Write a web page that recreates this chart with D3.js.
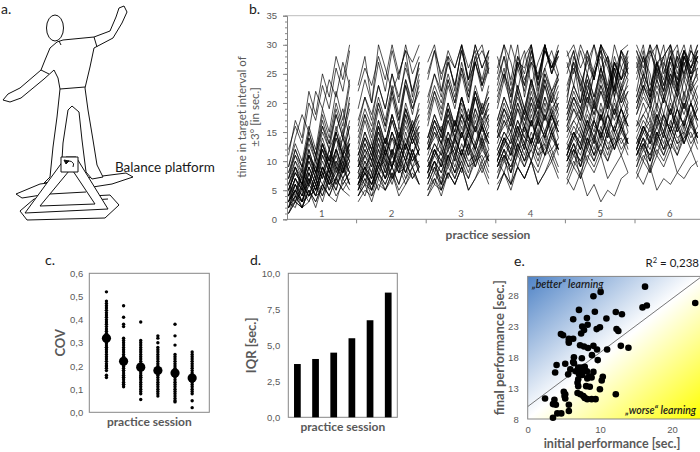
<!DOCTYPE html>
<html>
<head>
<meta charset="utf-8">
<script src="https://d3js.org/d3.v7.min.js"></script>
<style>
body { margin: 0; background: #fff; }
svg { display: block; font-family: Lato, "Open Sans", sans-serif; }
</style>
</head>
<body>
<div id="canvas"></div>
<script>
// ---- data ----
const sessions = ["1", "2", "3", "4", "5", "6"];

// b. time in target interval, one row per participant, 10 trials per session
const session1 = [
  [3,6,4,8,5,9,6,7,11,8],[2,4,3,7,4,5,9,6,8,10],[5,3,8,6,10,7,12,9,8,13],[1,3,2,5,2,6,4,3,7,5],
  [6,9,7,12,8,13,10,15,11,14],[2,5,3,4,7,4,8,5,9,6],[7,11,8,14,10,16,12,15,19,14],[3,2,6,4,5,9,6,10,7,9],
  [9,14,18,15,22,19,24,21,27,23],[4,7,5,9,6,11,8,12,9,13],[3,5,2,6,4,8,5,7,10,6],[8,12,9,15,11,17,13,19,15,20],
  [2,4,2,5,3,6,4,7,5,4],[5,8,6,10,7,12,9,14,10,13],[11,17,14,22,18,25,21,28,24,30],[4,6,3,8,5,9,7,11,8,12],
  [6,10,7,11,9,14,10,16,12,17],[1,4,2,3,6,3,7,4,6,8],[5,8,6,11,7,13,9,12,15,11],[9,13,10,16,12,19,15,22,17,24],
  [2,5,3,7,4,8,6,9,7,10],[4,7,5,6,9,7,11,8,12,10],[3,7,4,9,6,10,7,12,8,11],[7,10,8,13,10,15,12,18,14,19],
  [4,3,6,4,7,5,9,6,10,8],[2,6,3,7,5,9,6,8,11,9],[6,9,5,11,8,12,9,14,11,13],[12,16,13,20,17,23,19,26,22,29],
  [3,5,7,4,8,6,9,7,11,8],[5,9,6,12,8,13,10,15,11,16],[2,3,5,3,6,4,7,5,9,6],[4,7,5,9,6,11,8,12,9,14],
  [8,11,9,14,11,16,13,18,14,21],[3,6,4,8,5,9,7,10,8,11],[5,8,6,10,7,12,8,11,14,10],[1,3,2,5,3,6,4,7,5,7],
  [6,4,9,6,11,8,12,9,14,11],[4,9,6,11,8,13,9,15,11,16],[7,12,9,15,11,18,14,20,16,23],[3,5,3,6,4,8,5,9,6,8]
];
const session2 = [
  [6,10,7,12,8,11,9,13,10,12],[5,8,6,9,11,7,10,8,12,9],[8,12,9,14,10,15,11,13,16,12],[4,6,3,7,5,8,4,6,9,6],
  [10,14,11,16,12,17,13,19,15,18],[6,9,5,10,7,11,8,9,12,8],[12,17,13,19,15,21,16,23,18,24],[5,8,6,10,7,9,12,8,11,9],
  [19,24,20,27,22,29,24,30,25,28],[7,11,8,13,9,12,10,14,11,15],[6,4,8,5,9,6,10,7,11,8],[13,18,14,20,16,22,17,24,19,23],
  [4,6,5,8,5,7,9,6,8,6],[9,13,10,15,11,14,12,17,13,16],[23,28,20,30,26,22,25,29,21,27],[8,6,10,7,12,9,13,10,14,11],
  [11,15,12,17,13,18,14,20,16,19],[4,7,5,8,6,9,6,10,7,9],[9,13,10,16,11,15,12,18,14,17],[16,21,17,23,19,25,20,27,22,26],
  [6,9,7,11,8,12,9,13,10,12],[8,11,9,13,10,9,14,11,15,12],[7,10,8,12,9,14,10,15,11,14],[14,18,15,20,16,22,17,23,19,22],
  [6,8,5,9,7,10,8,11,9,10],[5,9,6,10,7,12,8,13,9,12],[10,14,11,15,12,17,13,18,14,16],[22,26,23,28,24,30,25,29,27,30],
  [7,9,11,8,12,9,13,10,14,11],[11,15,12,17,13,18,14,19,16,18],[5,7,4,8,6,9,6,10,7,9],[9,12,10,14,11,15,12,16,13,15],
  [15,19,16,21,17,23,18,24,20,25],[6,9,7,10,12,9,13,10,14,11],[9,11,13,10,14,11,16,12,17,14],[3,5,4,6,5,8,5,7,9,6],
  [10,8,12,9,14,11,15,12,16,13],[11,14,12,16,13,18,14,19,15,20],[17,21,18,23,19,25,21,26,22,27],[6,8,6,9,10,7,11,8,12,9]
];
const session3 = [
  [8,12,9,14,10,15,11,13,16,12],[7,10,8,12,9,13,10,11,14,10],[11,15,12,17,13,18,14,19,15,18],[5,7,4,8,6,9,5,7,10,7],
  [13,17,14,19,15,21,16,22,18,21],[7,10,6,11,8,12,9,10,13,9],[16,21,17,23,19,25,20,27,22,26],[6,9,7,11,8,10,13,9,12,10],
  [24,29,25,28,22,30,26,29,23,27],[10,13,11,15,12,17,13,18,14,17],[8,6,10,7,11,8,12,9,13,10],[17,22,18,24,20,26,21,27,23,28],
  [4,7,5,8,6,9,5,7,9,6],[12,16,13,18,14,19,15,21,16,20],[27,30,24,29,26,30,23,28,30,25],[10,8,12,9,14,11,15,12,16,13],
  [14,18,15,20,16,21,17,23,19,22],[5,8,6,9,7,10,7,11,8,11],[12,16,13,19,14,18,15,21,17,20],[20,25,21,27,23,29,24,30,26,29],
  [9,12,10,14,11,15,12,16,13,15],[10,13,11,15,12,11,16,13,17,14],[9,12,10,14,11,16,12,17,13,16],[18,22,19,24,20,26,21,27,23,26],
  [7,10,6,11,8,12,9,13,10,12],[8,12,9,13,10,15,11,16,12,15],[13,17,14,18,15,20,16,21,17,19],[25,29,22,28,26,30,24,27,29,26],
  [9,11,13,10,14,11,15,12,16,13],[14,18,15,20,16,21,17,22,19,21],[6,9,5,10,7,11,8,12,9,11],[12,15,13,17,14,18,15,19,16,18],
  [19,23,20,25,21,27,22,28,24,29],[8,11,9,12,14,11,15,12,16,13],[12,14,16,13,17,14,19,15,20,17],[4,6,5,8,6,9,7,10,11,8],
  [13,11,15,12,17,14,18,15,19,16],[14,17,15,19,16,21,17,22,18,23],[21,25,22,27,23,29,24,30,26,29],[8,10,8,11,12,9,13,10,14,11]
];
const session4 = [
  [10,14,11,16,12,17,13,15,18,14],[9,12,10,14,11,15,12,13,16,12],[13,17,14,19,15,20,16,21,17,20],[6,8,5,9,7,10,6,8,11,8],
  [16,20,17,22,18,24,19,25,21,24],[9,12,8,13,10,14,11,12,15,11],[19,24,20,26,22,28,23,30,25,29],[8,11,9,13,10,12,15,11,14,12],
  [26,30,23,28,25,30,22,29,27,24],[12,15,13,17,14,19,15,20,16,19],[10,8,12,9,13,10,14,11,15,12],[20,25,21,27,23,29,24,30,26,29],
  [5,8,6,9,7,10,6,8,10,7],[14,18,15,20,16,21,17,23,18,22],[28,24,30,26,29,23,27,30,25,29],[12,10,14,11,16,13,17,14,18,15],
  [17,21,18,23,19,24,20,26,22,25],[7,10,8,11,9,12,9,13,10,13],[15,19,16,22,17,21,18,24,20,23],[23,28,24,30,21,27,25,29,26,28],
  [11,14,12,16,13,17,14,18,15,17],[12,15,13,17,14,13,18,15,19,16],[11,14,12,16,13,18,14,19,15,18],[21,25,22,27,23,29,24,30,26,29],
  [9,12,8,13,10,14,11,15,12,14],[10,14,11,15,12,17,13,18,14,17],[15,19,16,20,17,22,18,23,19,21],[25,30,27,22,28,30,24,29,26,30],
  [10,13,15,12,16,13,17,14,18,15],[17,21,18,23,19,24,20,25,22,24],[7,11,6,12,9,13,10,14,11,13],[14,17,15,19,16,20,17,21,18,20],
  [22,26,19,28,24,27,21,30,25,28],[10,13,11,14,16,13,17,14,18,15],[14,16,18,15,19,16,21,17,22,19],[5,8,6,9,7,10,8,11,12,9],
  [15,13,17,14,19,16,20,17,21,18],[16,19,17,21,18,23,19,24,20,25],[24,28,21,27,26,30,23,26,29,25],[9,11,9,12,13,10,14,11,15,12]
];
const session5 = [
  [11,15,12,17,13,18,14,16,19,15],[10,13,11,15,12,16,13,14,17,13],[15,19,16,21,17,22,18,23,19,22],[7,5,8,4,6,3,5,4,7,8],
  [18,22,19,24,20,26,21,27,23,26],[10,13,9,14,11,15,12,13,16,12],[22,27,20,29,25,28,23,30,26,24],[9,12,10,14,11,13,16,12,15,13],
  [27,23,29,25,30,26,28,22,29,30],[13,16,14,18,15,20,16,21,17,20],[11,9,13,10,14,11,15,12,16,13],[21,26,23,19,25,29,22,27,24,28],
  [6,9,7,10,8,11,7,9,11,8],[16,20,17,22,18,23,19,25,20,24],[29,25,30,27,24,30,28,25,29,27],[13,11,15,12,17,14,18,15,19,16],
  [19,23,20,25,21,26,22,28,24,27],[8,11,9,12,10,13,10,14,11,14],[17,21,18,24,19,23,20,26,22,25],[25,29,23,27,30,24,28,21,26,29],
  [12,15,13,17,14,18,15,19,16,18],[14,17,15,19,16,15,20,17,21,18],[12,15,13,17,14,19,15,20,16,19],[23,27,24,20,25,29,26,22,28,25],
  [10,13,9,14,11,15,12,16,13,15],[11,15,12,16,13,18,14,19,15,18],[17,21,18,22,19,24,20,25,21,23],[28,30,26,29,24,30,27,23,29,26],
  [11,14,16,13,17,14,18,15,19,16],[19,23,20,25,21,26,22,27,24,26],[8,12,7,13,10,14,11,15,12,14],[16,19,17,21,18,22,19,23,20,22],
  [20,28,25,22,26,30,19,27,24,29],[11,14,12,15,17,14,18,15,19,16],[15,17,19,16,20,17,22,18,23,20],[7,10,8,11,9,12,10,13,14,11],
  [16,14,18,15,20,17,21,18,22,19],[18,21,19,23,20,25,21,26,22,27],[26,29,22,28,24,30,27,21,29,25],[10,12,10,13,14,11,15,12,16,13]
];
const session6 = [
  [12,16,13,18,14,19,15,17,20,16],[11,14,12,16,13,17,14,15,18,14],[16,20,17,22,18,23,19,24,20,23],[8,6,9,5,7,6,8,7,9,10],
  [20,24,21,26,22,28,23,29,25,28],[11,14,10,15,12,16,13,14,17,13],[24,28,21,30,26,23,28,25,29,27],[10,13,11,15,12,14,17,13,16,14],
  [29,26,30,24,28,30,25,29,27,30],[14,17,15,19,16,21,17,22,18,21],[12,10,14,11,15,12,16,13,17,14],[22,28,25,19,27,24,28,21,26,29],
  [7,10,8,11,9,12,8,10,12,9],[18,22,19,24,20,25,21,27,22,26],[30,27,29,25,28,30,26,29,24,28],[14,12,16,13,18,15,19,16,20,17],
  [21,25,22,27,23,28,24,29,26,29],[9,12,10,13,11,14,11,15,12,15],[19,23,20,26,21,25,22,28,24,27],[27,22,28,30,25,29,23,28,26,30],
  [13,16,14,18,15,19,16,20,17,19],[15,18,16,20,17,16,21,18,22,19],[13,16,14,18,15,20,16,21,17,20],[25,29,20,27,24,30,22,28,25,26],
  [11,14,10,15,12,16,13,17,14,16],[12,16,13,17,14,19,15,20,16,19],[19,23,20,24,21,26,22,27,23,25],[29,25,30,27,22,28,30,24,29,27],
  [12,15,17,14,18,15,19,16,20,17],[21,25,22,27,23,28,24,29,26,28],[9,13,8,14,11,15,12,16,13,15],[18,21,19,23,20,24,21,25,22,24],
  [26,30,23,27,28,21,29,25,30,24],[12,15,13,16,18,15,19,16,20,17],[16,18,20,17,21,18,23,19,24,21],[8,11,9,12,10,13,11,14,15,12],
  [17,15,19,16,21,18,22,19,23,20],[20,23,21,25,22,27,23,28,24,29],[28,24,29,26,30,23,27,30,25,28],[11,13,11,14,15,12,16,13,17,14]
];

// c. coefficient of variation per participant and session
const cov1 = [0.52,0.48,0.47,0.46,0.45,0.44,0.43,0.42,0.41,0.40,0.39,0.38,0.37,0.36,0.35,0.34,0.33,0.33,0.32,0.31,0.30,0.30,0.29,0.28,0.28,0.27,0.26,0.25,0.24,0.23,0.22,0.21,0.20,0.20,0.19,0.18,0.16,0.15];
const cov2 = [0.46,0.41,0.38,0.37,0.32,0.31,0.30,0.29,0.28,0.27,0.26,0.25,0.24,0.24,0.23,0.22,0.22,0.21,0.20,0.20,0.19,0.18,0.18,0.17,0.16,0.15,0.15,0.14,0.13,0.12,0.12,0.11];
const cov3 = [0.39,0.31,0.30,0.29,0.28,0.27,0.26,0.25,0.24,0.23,0.22,0.21,0.20,0.20,0.19,0.18,0.18,0.17,0.16,0.15,0.15,0.14,0.13,0.12,0.11,0.10,0.09,0.08,0.055];
const cov4 = [0.33,0.32,0.30,0.28,0.27,0.26,0.25,0.24,0.23,0.22,0.21,0.20,0.19,0.18,0.18,0.17,0.16,0.15,0.14,0.13,0.12,0.11,0.10,0.09,0.08,0.07];
const cov5 = [0.38,0.33,0.29,0.25,0.24,0.23,0.22,0.21,0.20,0.19,0.18,0.17,0.16,0.16,0.15,0.14,0.13,0.12,0.11,0.10,0.09,0.08,0.07,0.06,0.05,0.045];
const cov6 = [0.26,0.25,0.24,0.23,0.22,0.21,0.20,0.19,0.18,0.17,0.16,0.15,0.14,0.13,0.12,0.11,0.10,0.09,0.08,0.05,0.02];
const covMean = [0.32, 0.22, 0.195, 0.18, 0.17, 0.148];

// d. interquartile range per session
const iqr = [3.70, 4.05, 4.49, 5.49, 6.74, 8.66];

// e. initial vs final performance
const initialPerf = [2.4,3.7,3.5,3.9,3.5,4.1,4.65,5.7,5.7,5.0,5.2,5.1,5.2,3.8,4.0,5.2,5.6,5.9,6.4,6.4,6.3,6.65,7.0,7.0,7.4,7.1,7.55,7.0,6.9,7.0,6.9,7.3,7.7,7.9,8.25,8.85,9.4,8.1,8.6,8.25,8.5,8.85,9.1,8.2,7.9,7.7,10.0,10.25,10.4,9.7,8.9,7.5,9.6,9.1,8.35,7.8,7.25,5.7,5.7,5.7,6.3,4.6,4.9,7.4,7.8,7.55,8.3,9.55,10.0,6.3,8.2,7.1,9.3,9.1,10.1,10.9,12.3,12.55,12.2,13.05,11.0,12.9,13.95,12.2,15.9,16.5,16.25,23.2];
const finalPerf = [11.3,11.1,10.4,10.3,8.2,8.9,8.9,10.3,9.3,12.4,12.0,11.7,11.3,15.5,16.7,16.9,15.2,16.0,17.0,17.95,17.2,15.7,16.3,16.0,16.3,15.25,15.1,14.4,13.85,13.3,12.2,12.0,11.7,11.4,11.2,11.2,11.2,13.3,13.2,14.55,14.9,14.7,15.6,15.7,16.4,16.0,12.8,14.2,14.8,17.5,18.3,17.8,19.2,19.8,19.45,19.7,19.9,20.95,20.6,20.3,20.95,21.7,21.5,21.8,22.35,22.9,23.2,22.5,22.8,24.1,24.3,25.6,25.3,27.8,28.5,24.2,22.5,22.2,25.25,24.9,19.2,19.8,19.5,12.0,26.0,26.3,29.35,26.7];
const fitLine = [[0, 10], [24, 30.9]];

// ---- setup ----
const W = 700, H = 452;
const axisGrey = "#868686", textGrey = "#595959", ink = "#1a1a1a";
const comma = d3.formatLocale({decimal: ",", thousands: ".", grouping: [3], currency: ["", ""]});

const svg = d3.select("#canvas").append("svg")
  .attr("width", W)
  .attr("height", H);

function styleAxis(g, size) {
  g.selectAll("path, line").attr("stroke", axisGrey);
  g.selectAll("text").attr("fill", textGrey).style("font-size", (size || 9) + "px");
}

function panelLetter(txt, x, y) {
  svg.append("text").attr("x", x).attr("y", y).text(txt)
    .attr("fill", ink).style("font-size", "14px");
}

function boldTitle(txt, x, y, rotate) {
  const t = svg.append("text")
    .attr("text-anchor", "middle")
    .attr("fill", textGrey)
    .style("font-size", "12px")
    .style("font-weight", "bold")
    .text(txt);
  if (rotate) t.attr("transform", `translate(${x},${y})rotate(-90)`);
  else t.attr("x", x).attr("y", y);
  return t;
}

// ---- a. illustration ----
panelLetter("a.", 1, 14);
const fig = svg.append("g").attr("fill", "#fff").attr("stroke", "#111").attr("stroke-width", 1).attr("stroke-linejoin", "round");
// base frame
fig.append("path").attr("d", "M20,211 L34,199 L110,195 L119,205 L105,218 L27,220 Z");
fig.append("path").attr("d", "M30,212 L40,203 M45,211 L75,210 M80,209 L106,207 M40,203 L70,201 M76,201 L108,199").attr("fill", "none");
// tilting board
fig.append("path").attr("d", "M16,194 L40,184 L126,173 L133,177 L112,184 L22,198 Z");
fig.append("path").attr("d", "M44,189 L72,182 L92,183 L60,191 Z").attr("fill", "none");
// person
fig.append("path").attr("d",
  "M57,42 L50,48 L45,60 L41,70 L20,88 L8,94 L3,100 L10,102 L21,98 L44,79 L54,70 L58,78 L60,89 " +
  "L57,117 L53,147 L50,177 L44,183 L58,181 L61,176 L63,143 L68,110 L72,106 L79,112 L82,140 L86,172 " +
  "L92,179 L103,177 L97,165 L93,140 L88,110 L85,88 L90,67 L94,48 L113,38 L122,23 L127,12 L124,6 " +
  "L119,8 L116,17 L110,31 L94,37 L63,40 Z");
fig.append("path").attr("d", "M60,89 L85,87 M41,70 L49,74 M94,37 L97,47 M59,41 L61,45").attr("fill", "none");
fig.append("ellipse").attr("cx", 55).attr("cy", 28).attr("rx", 8.5).attr("ry", 13);
// A-frame and pivot box
fig.append("path").attr("d", "M66,157 L25,213 L108,209 L76,157 Z");
fig.append("path").attr("d", "M69,171 L40,206 L95,204 L73,171 Z");
fig.append("path").attr("d", "M50,194 L86,192").attr("fill", "none");
fig.append("rect").attr("x", 61).attr("y", 157).attr("width", 17).attr("height", 15);
fig.append("path").attr("d", "M73,167 A4,4 0 1 0 66,163").attr("fill", "none");
fig.append("path").attr("d", "M64,160 L66,164 L69,161 Z").attr("fill", "#111");
svg.append("text").attr("x", 115).attr("y", 172).text("Balance platform")
  .attr("fill", ink).style("font-size", "13.5px");

// ---- b. learning curves ----
panelLetter("b.", 249, 14);
const bLeft = 287, bTop = 15.7, bBottom = 219.3;
const xb = d3.scaleBand().domain(sessions).range([bLeft, 704.6]);
const trialX = d3.scaleLinear().domain([0, 9]).range([1.5, xb.bandwidth() * 0.9]);
const yb = d3.scaleLinear().domain([0, 35]).range([bBottom, bTop]);
const trialsBySession = [session1, session2, session3, session4, session5, session6];

svg.append("line").attr("x1", bLeft).attr("x2", W).attr("y1", bTop).attr("y2", bTop).attr("stroke", "#bdbdbd");

const curves = svg.append("g").attr("fill", "none").attr("stroke", "#000").attr("stroke-width", 0.75).attr("stroke-opacity", 0.9);
trialsBySession.forEach((rows, si) => {
  const line = d3.line().x((d, i) => xb(sessions[si]) + trialX(i)).y(d => yb(d));
  curves.selectAll(null).data(rows).enter().append("path").attr("d", line);
});

const yMinor = svg.append("g").attr("transform", `translate(${bLeft},0)`)
  .call(d3.axisLeft(yb).ticks(35).tickSize(2).tickFormat(""));
yMinor.select(".domain").remove();
styleAxis(yMinor);
const yAxisB = svg.append("g").attr("transform", `translate(${bLeft},0)`)
  .call(d3.axisLeft(yb).tickValues(d3.range(0, 36, 5)).tickSize(4).tickPadding(6));
styleAxis(yAxisB, 9.5);

svg.append("line").attr("x1", bLeft).attr("x2", W).attr("y1", bBottom).attr("y2", bBottom).attr("stroke", axisGrey);
svg.append("g").selectAll("line").data(sessions.slice(1)).enter().append("line")
  .attr("x1", d => xb(d)).attr("x2", d => xb(d))
  .attr("y1", bBottom).attr("y2", bBottom + 4).attr("stroke", axisGrey);
svg.append("g").selectAll("text").data(sessions).enter().append("text")
  .attr("x", d => xb(d) + xb.bandwidth() / 2).attr("y", bBottom - 2)
  .attr("text-anchor", "middle").attr("fill", textGrey).style("font-size", "9.5px").text(d => d);

const yLabB = svg.append("text").attr("transform", `translate(246,117)rotate(-90)`)
  .attr("text-anchor", "middle").attr("fill", textGrey).style("font-size", "11.5px");
yLabB.append("tspan").attr("x", 0).attr("dy", 0).text("time in target interval of");
yLabB.append("tspan").attr("x", 0).attr("dy", 12.5).text("±3° [in sec.]");
boldTitle("practice session", 488, 239);

// ---- c. COV ----
panelLetter("c.", 45, 265);
const cBox = {l: 89.3, r: 209.3, t: 273.3, b: 412.3};
const xc = d3.scalePoint().domain(sessions).range([cBox.l, cBox.r]).padding(1);
const yc = d3.scaleLinear().domain([0, 0.6]).range([cBox.b, cBox.t]);
const covBySession = [cov1, cov2, cov3, cov4, cov5, cov6];
svg.append("rect").attr("x", cBox.l).attr("y", cBox.t).attr("width", cBox.r - cBox.l).attr("height", cBox.b - cBox.t)
  .attr("fill", "none").attr("stroke", axisGrey);
covBySession.forEach((vals, si) => {
  svg.append("g").selectAll("circle").data(vals).enter().append("circle")
    .attr("cx", xc(sessions[si])).attr("cy", d => yc(d)).attr("r", 1.7).attr("fill", "#000");
});
svg.append("g").selectAll("circle").data(covMean).enter().append("circle")
  .attr("cx", (d, i) => xc(sessions[i])).attr("cy", d => yc(d)).attr("r", 4.6).attr("fill", "#000");
const yAxisC = svg.append("g").attr("transform", `translate(${cBox.l},0)`)
  .call(d3.axisLeft(yc).ticks(6).tickSize(0).tickPadding(6).tickFormat(comma.format(".1f")));
yAxisC.select(".domain").remove();
styleAxis(yAxisC, 9.5);
boldTitle("COV", 65, (cBox.t + cBox.b) / 2, true).style("font-size", "13px");
boldTitle("practice session", (cBox.l + cBox.r) / 2, 426);

// ---- d. IQR ----
panelLetter("d.", 250, 265);
const dBox = {l: 288.3, r: 397.3, t: 273.3, b: 417.3};
const xd = d3.scaleBand().domain(sessions).range([dBox.l, dBox.r]).paddingInner(0.63).paddingOuter(0.315);
const yd = d3.scaleLinear().domain([0, 10]).range([dBox.b, dBox.t]);
svg.append("rect").attr("x", dBox.l).attr("y", dBox.t).attr("width", dBox.r - dBox.l).attr("height", dBox.b - dBox.t)
  .attr("fill", "none").attr("stroke", axisGrey);
svg.append("g").selectAll("rect").data(iqr).enter().append("rect")
  .attr("x", (d, i) => xd(sessions[i])).attr("width", xd.bandwidth())
  .attr("y", d => yd(d)).attr("height", d => dBox.b - yd(d)).attr("fill", "#000");
const yAxisD = svg.append("g").attr("transform", `translate(${dBox.l},0)`)
  .call(d3.axisLeft(yd).tickValues([0, 2.5, 5, 7.5, 10]).tickSize(0).tickPadding(8).tickFormat(comma.format(".1f")));
yAxisD.select(".domain").remove();
styleAxis(yAxisD, 9.5);
boldTitle("IQR [sec.]", 256, (dBox.t + dBox.b) / 2, true).style("font-size", "13px");
boldTitle("practice session", (dBox.l + dBox.r) / 2, 431);

// ---- e. initial vs final ----
panelLetter("e.", 514, 266);
const eBox = {l: 527.7, r: 701, t: 276.4, b: 419};
const xe = d3.scaleLinear().domain([0, 24]).range([eBox.l, eBox.r]);
const ye = d3.scaleLinear().domain([8, 31]).range([eBox.b, eBox.t]);
const grad = svg.append("defs").append("linearGradient").attr("id", "learnGrad")
  .attr("x1", 0).attr("y1", 0).attr("x2", 1).attr("y2", 1);
grad.append("stop").attr("offset", 0).attr("stop-color", "#4f83c6");
grad.append("stop").attr("offset", 0.5).attr("stop-color", "#ffffff");
grad.append("stop").attr("offset", 1).attr("stop-color", "#ffff00");
svg.append("clipPath").attr("id", "eClip").append("rect")
  .attr("x", eBox.l).attr("y", eBox.t).attr("width", eBox.r - eBox.l).attr("height", eBox.b - eBox.t);
svg.append("rect").attr("x", eBox.l).attr("y", eBox.t).attr("width", eBox.r - eBox.l).attr("height", eBox.b - eBox.t)
  .attr("fill", "url(#learnGrad)").attr("stroke", axisGrey);
svg.append("path").datum(fitLine).attr("clip-path", "url(#eClip)")
  .attr("d", d3.line().x(d => xe(d[0])).y(d => ye(d[1])))
  .attr("stroke", "#555").attr("stroke-width", 0.8).attr("fill", "none");
svg.append("g").selectAll("circle").data(initialPerf).enter().append("circle")
  .attr("cx", d => xe(d)).attr("cy", (d, i) => ye(finalPerf[i])).attr("r", 3.3).attr("fill", "#000");
const yAxisE = svg.append("g").attr("transform", `translate(${eBox.l},0)`)
  .call(d3.axisLeft(ye).tickValues([8, 13, 18, 23, 28]).tickSize(0).tickPadding(9));
yAxisE.select(".domain").remove();
styleAxis(yAxisE, 9.5);
const xAxisE = svg.append("g").attr("transform", `translate(0,${eBox.b})`)
  .call(d3.axisBottom(xe).tickValues([0, 10, 20]).tickSize(0).tickPadding(7));
xAxisE.select(".domain").remove();
styleAxis(xAxisE, 9.5);
svg.append("text").attr("x", 532).attr("y", 288).text("\u201Ebetter\u201C learning")
  .attr("fill", "#1a1a1a").style("font-size", "10.5px").style("font-style", "italic").style("font-weight", 600);
svg.append("text").attr("x", 696).attr("y", 414).attr("text-anchor", "end").text("\u201Eworse\u201C learning")
  .attr("fill", "#1a1a1a").style("font-size", "10.5px").style("font-style", "italic").style("font-weight", 600);
const r2 = svg.append("text").attr("x", 699).attr("y", 267).attr("text-anchor", "end")
  .attr("fill", ink).style("font-size", "11.5px");
r2.append("tspan").text("R");
r2.append("tspan").attr("dy", -4).style("font-size", "7.5px").text("2");
r2.append("tspan").attr("dy", 4).text(" = 0,238");
boldTitle("final performance [sec.]", 504, (eBox.t + eBox.b) / 2, true).style("font-size", "13px");
boldTitle("initial performance [sec.]", 612, 448).style("font-size", "12.5px");
</script>
</body>
</html>
